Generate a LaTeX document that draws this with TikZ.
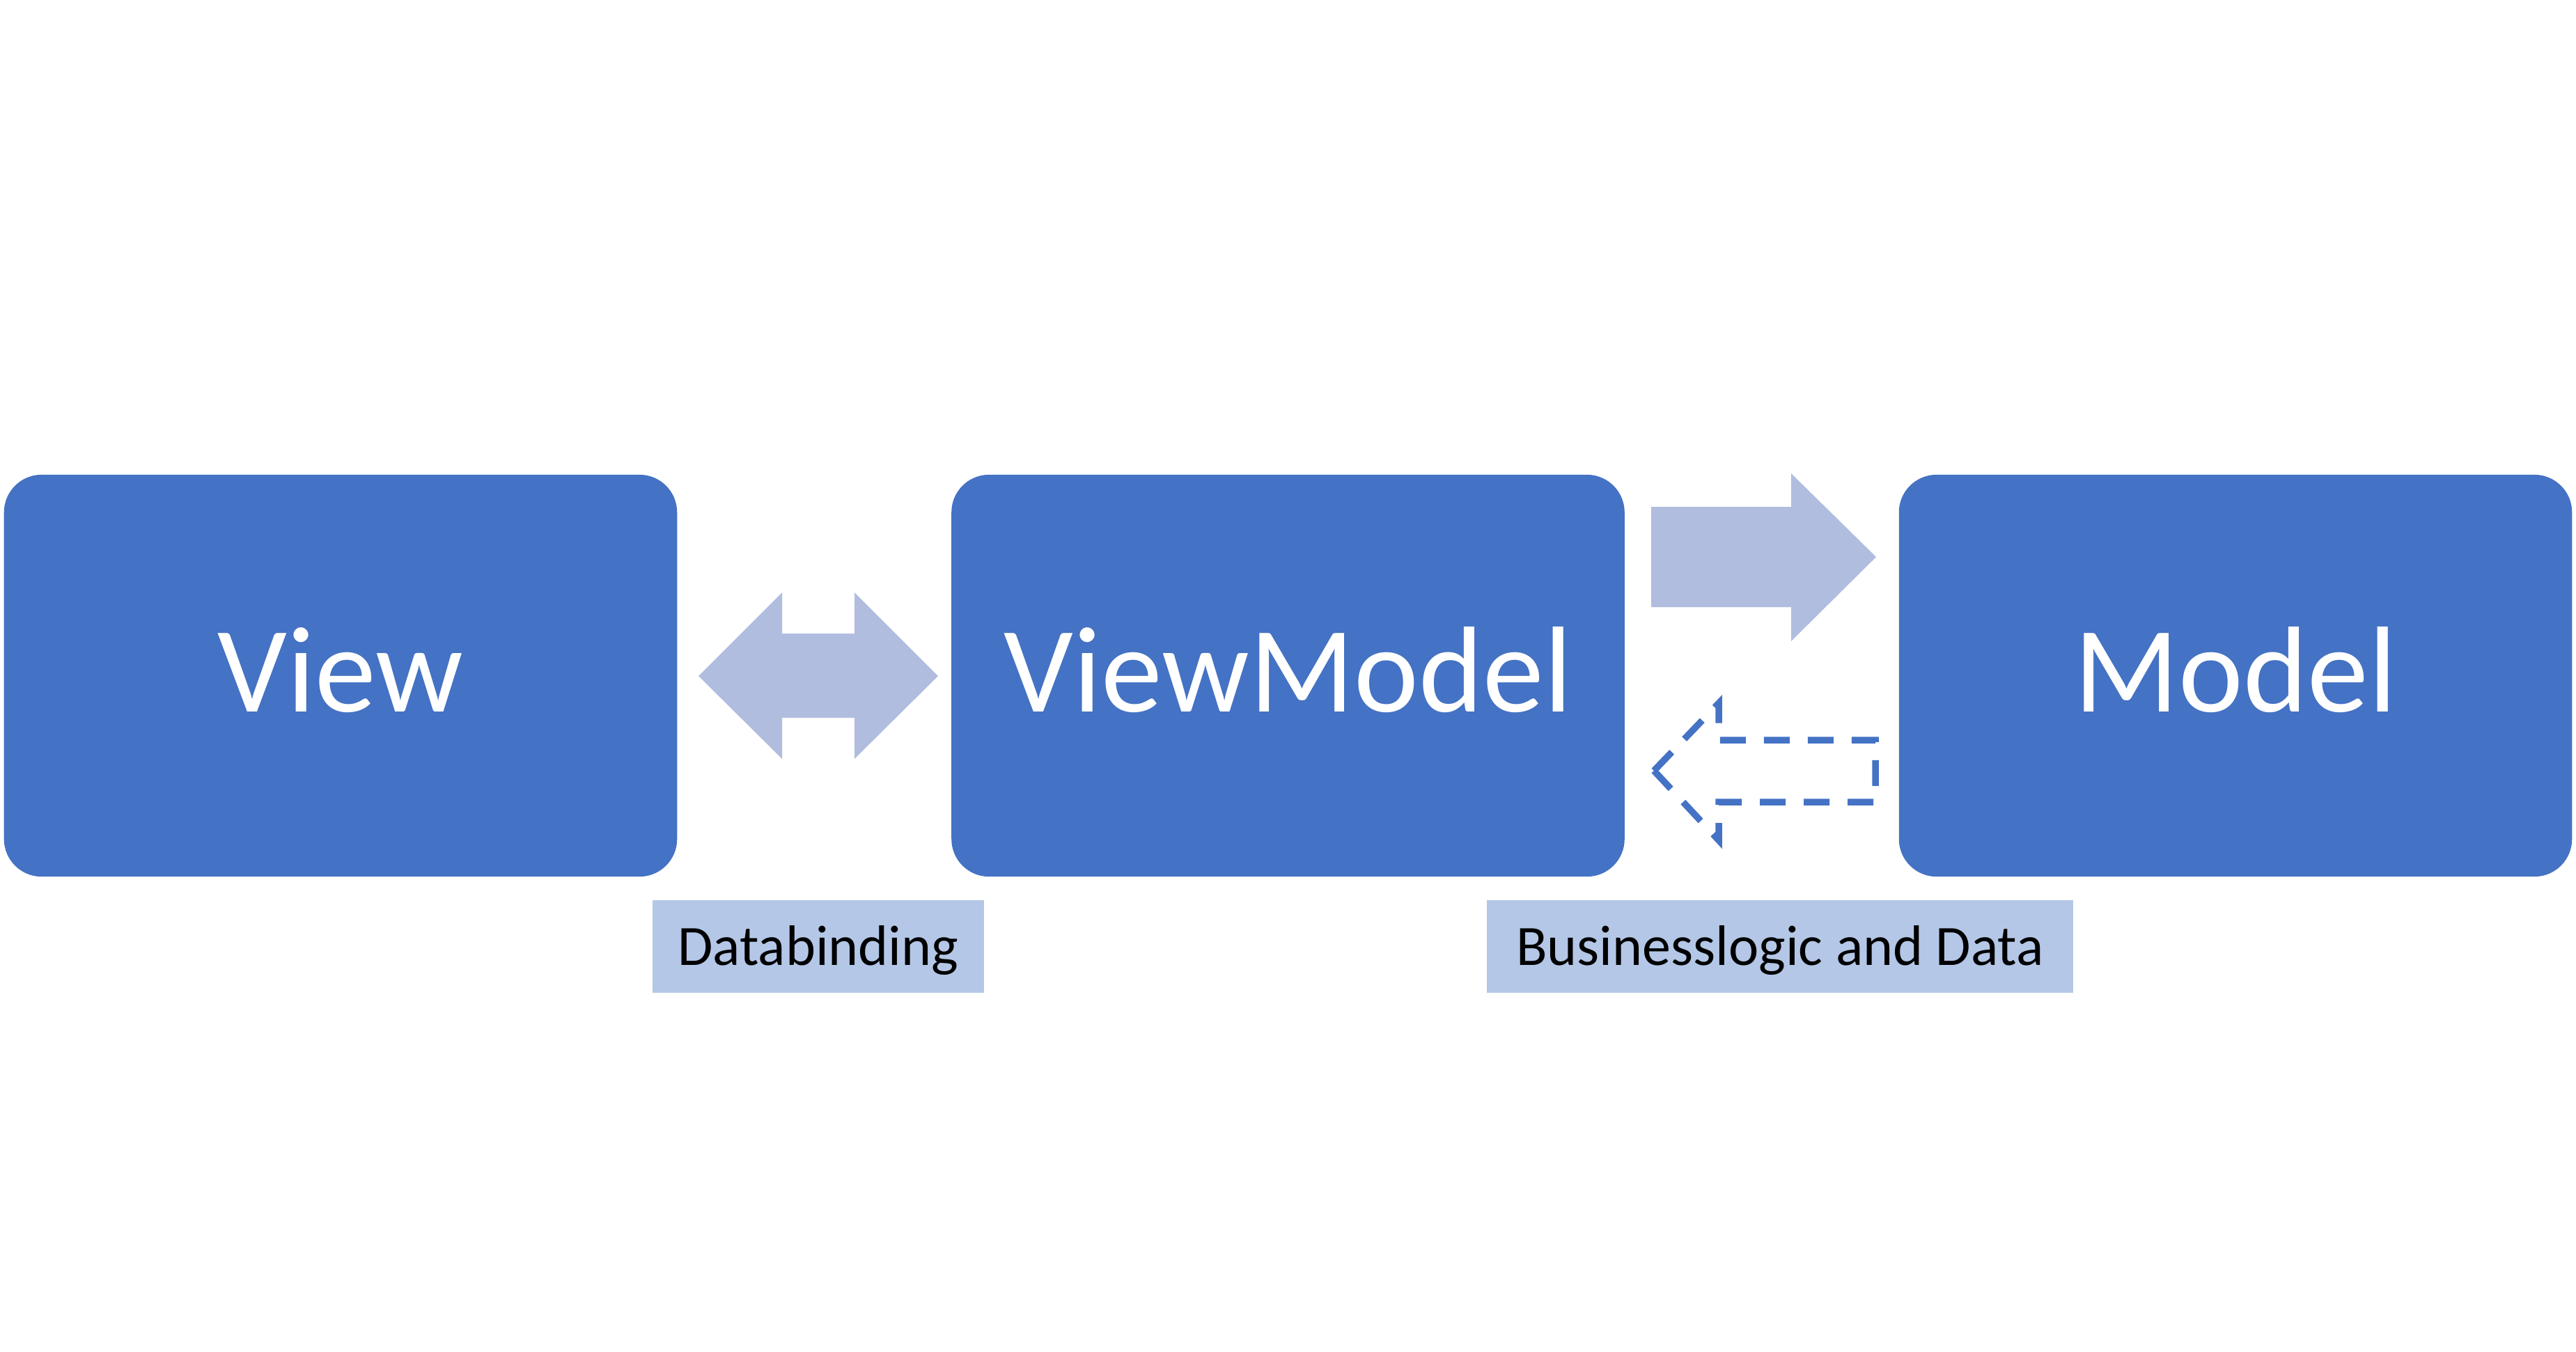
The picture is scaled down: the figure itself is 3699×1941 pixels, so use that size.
\documentclass[tikz,border=0pt]{standalone}
\usepackage{fontspec}
\setmainfont{Carlito}
\definecolor{boxblue}{HTML}{4472C4}
\definecolor{arrowfill}{HTML}{B0BDDF}
\definecolor{labelfill}{HTML}{B4C7E7}
\begin{document}
\begin{tikzpicture}[x=0.01cm,y=-0.01cm,
  mainbox/.style={fill=boxblue, draw=none, rounded corners=0.54cm, inner sep=0pt,
    minimum width=9.66cm, minimum height=5.77cm, text=white,
    font=\fontsize{50}{60}\selectfont, text height=1.17cm, text depth=0.14cm},
  labelbox/.style={fill=labelfill, draw=none, inner sep=0pt, minimum height=1.33cm,
    text=black, font=\fontsize{23.3}{28}\selectfont, text height=0.53cm, text depth=0pt},
  fatarrow/.style={fill=arrowfill, draw=none},
  dasharrow/.style={draw=boxblue, line width=0.095cm, dash pattern=on 0.37cm off 0.26cm, line join=miter}
]
\useasboundingbox (0,0) rectangle (3699,1941);
\node[mainbox] (view) at (489,970.5) {View};
\node[mainbox] (vm) at (1849.5,970.5) {ViewModel};
\node[mainbox] (model) at (3210,970.5) {Model};
\node[labelbox, minimum width=4.76cm] (lbl1) at (1175,1359.5) {Databinding};
\node[labelbox, minimum width=8.42cm] (lbl2) at (2556,1359.5) {Businesslogic and Data};
% double arrow between View and ViewModel
\fill[fatarrow] (1003,971) -- (1123,851) -- (1123,910) -- (1227,910) -- (1227,851)
  -- (1347,971) -- (1227,1090) -- (1227,1031) -- (1123,1031) -- (1123,1090) -- cycle;
% right arrow ViewModel -> Model
\fill[fatarrow] (2371,728) -- (2572,728) -- (2572,680) -- (2694,800) -- (2572,921)
  -- (2572,872) -- (2371,872) -- cycle;
% dashed left arrow Model -> ViewModel
\draw[dasharrow] (2375,1107) -- (2468,1010) -- (2468,1063) -- (2693,1063) -- (2693,1152)
  -- (2468,1152) -- (2468,1207) -- cycle;
\end{tikzpicture}
\end{document}
